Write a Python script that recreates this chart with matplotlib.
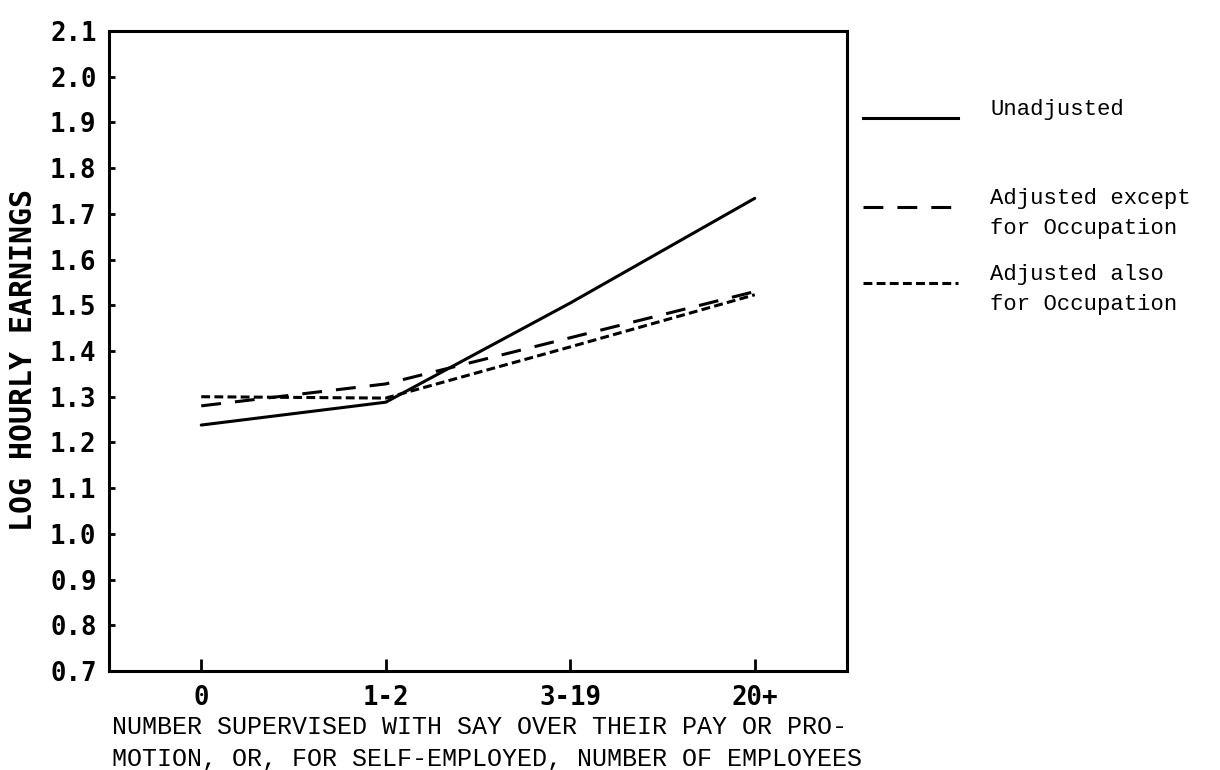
import matplotlib
matplotlib.use("Agg")
import matplotlib.pyplot as plt
from matplotlib.lines import Line2D

# Supervision categories and log hourly earnings for each estimate
categories = ["0", "1-2", "3-19", "20+"]
unadjusted = [1.238, 1.288, 1.505, 1.734]
adjusted_except_occ = [1.280, 1.328, 1.429, 1.530]
adjusted_also_occ = [1.300, 1.297, 1.409, 1.523]

y_ticks = [0.7, 0.8, 0.9, 1.0, 1.1, 1.2, 1.3, 1.4, 1.5, 1.6, 1.7, 1.8, 1.9, 2.0, 2.1]

series_labels = ["Unadjusted", "Adjusted except\nfor Occupation", "Adjusted also\nfor Occupation"]

W, H = 1220, 770
fig = plt.figure(figsize=(W / 100, H / 100), dpi=100)
ax = fig.add_axes([109 / W, 1 - 671 / H, (847 - 109) / W, (671 - 31) / H])

plot_font = dict(family="DejaVu Sans Mono", weight="bold")
type_font = dict(family="Liberation Mono")

x = list(range(len(categories)))
long_dash = (0, (6.5, 4.6))
short_dash = (0, (2.9, 1.4))
styles = ["-", long_dash, short_dash]
series = [unadjusted, adjusted_except_occ, adjusted_also_occ]

for vals, ls in zip(series, styles):
    ax.plot(x, vals, color="black", lw=2.2, linestyle=ls, solid_capstyle="round",
            dash_capstyle="butt")

ax.set_xlim(-0.5, 3.5)
ax.set_ylim(0.7, 2.1)
ax.set_xticks(x)
ax.set_xticklabels(categories, fontsize=18.5, **plot_font)
ax.set_yticks(y_ticks)
ax.set_yticklabels([f"{v:.1f}" for v in y_ticks], fontsize=18.5, **plot_font)
ax.tick_params(axis="y", direction="in", length=4, width=2, pad=9)
ax.tick_params(axis="x", direction="in", length=9, width=2, pad=10)
for s in ax.spines.values():
    s.set_linewidth(2.2)

fig.text(24 / W, 1 - 360 / H, "LOG HOURLY EARNINGS", rotation=90, ha="center",
         va="center", fontsize=21.5, **plot_font)

fig.text(112 / W, 1 - 715 / H,
         "NUMBER SUPERVISED WITH SAY OVER THEIR PAY OR PRO-\n"
         "MOTION, OR, FOR SELF-EMPLOYED, NUMBER OF EMPLOYEES",
         ha="left", va="top", fontsize=18.0, linespacing=1.4, **type_font)

# Key drawn to the right of the axes
key_rows = [118, 207, 283]
for label, ls, yy in zip(series_labels, styles, key_rows):
    fy = 1 - yy / H
    fig.add_artist(Line2D([863 / W, 958 / W], [fy, fy], color="black", lw=2.2,
                          linestyle=ls, transform=fig.transFigure))
    fig.text(990 / W, 1 - (yy - 19) / H, label, ha="left", va="top", fontsize=16,
             linespacing=1.55, **type_font)

fig.savefig("out.png", dpi=100, facecolor="white")
